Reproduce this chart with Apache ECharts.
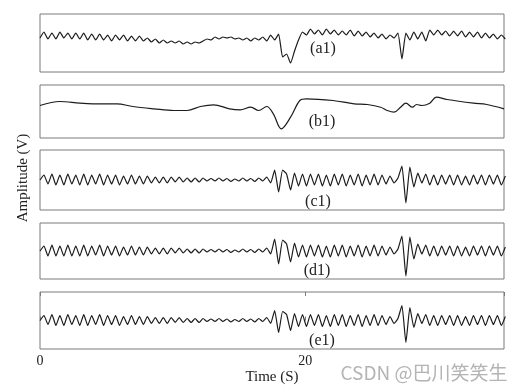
<!DOCTYPE html>
<html><head><meta charset="utf-8">
<script src="https://cdn.jsdelivr.net/npm/echarts@6/dist/echarts.min.js"></script>
<style>html,body{margin:0;padding:0;background:#fff}#c{width:526px;height:392px}</style>
</head><body><div id="c"></div>
<script>
// sampling interval of the oscillating records (s)
const timeStep = 0.3;
// (a1) record
const a1 = [5, 11, 4, 10, 4, 11, 5, 10, 4, 10, 4, 10, 3, 9, 3, 9, 3, 8, 2, 8, 3, 8, 2, 7, 2, 7, 2,
  5, 1, 4, 0, 3, 0, 2, 0, 2, -1, 1, -1, 1, 0,
  2, 4, 3, 6, 4, 6, 5, 6, 4, 5, 3, 5, 2, 5, 3,
  6, 2, 8, 3, 9, -14, -11, -20, -8, 3, 11,
  8, 14, 9, 13, 8, 14, 9, 13, 8, 12, 8, 13, 7, 12, 7, 11, 6, 10, 5, 9,
  4, 8, 5, 10, -16, 10, 3, 11, 4, 11, 2, 13,
  8, 13, 8, 12, 7, 12, 7, 12, 6, 11, 6, 11, 5, 10, 5, 9, 4, 8, 4];
// (b1) smooth record, sampled at its turning points
const b1Time = [0, 1.5, 3.0, 4.0, 5.8, 7.0, 8.6, 10.1, 11.1, 12.1, 13.1, 14.3, 15.1, 15.9, 16.5, 17.1, 17.6, 18.2, 18.9, 19.6,
  20.1, 22.1, 23.7, 24.7, 25.7, 26.2, 26.7, 27.2, 27.6, 28.1, 28.4, 28.8, 29.4, 29.9, 30.7, 32.7, 33.7, 35];
const b1 = [6, 10, 8.3, 7.7, 7.7, 5, 2.7, 1, 1, 5, 6.7, 2.7, 1.7, 4.3, 1, 5, -2.3, -17.3, -5.7, 11,
  12.7, 11, 7.7, 7, 4.3, 1, -0.7, 4.3, 8.3, 4.3, 7, 6, 8.3, 14.3, 12, 8.3, 7, 2.7];
// (c1) record
const c1 = [0, 5, -4, 6, -5, 5, -5, 6, -4, 5, -5, 6, -5, 5, -4, 6, -5, 5, -4, 5, -5, 4, -4, 5, -4, 4, -4,
  4, -3, 3, -3, 3, -3, 3, -2, 3, -2, 2, -2, 2, -2,
  2, -1, 1.5, -1, 2, -1, 1.5, -1.5, 1, -1, 2, -1, 1.5, -1.5, 2,
  -1, 3, -3, 10, -12, 10, 6, -10, 7, -6, 6,
  -6, 6, -5, 6, -6, 5, -6, 6, -5, 6, -6, 5, -5, 6, -6, 5, -5, 6, -5, 5,
  -4, 4, -3, 2, 14, -23, 13, -7, 7, -3, 6, -5,
  5, -5, 5, -4, 5, -5, 5, -5, 4, -5, 5, -4, 5, -5, 5, -4, 5, -5, 4];
// (d1) record
const d1 = [0, 5, -5, 6, -5, 5, -5, 6, -5, 5, -5, 6, -5, 5, -4, 6, -5, 5, -4, 5, -5, 4, -4, 5, -4, 4, -4,
  4, -3, 3, -3, 3, -3, 3, -2, 3, -2, 2, -2, 2, -2,
  2, -1, 1.5, -1, 2, -1, 1.5, -1.5, 1, -1, 2, -1, 1.5, -1.5, 2,
  -1, 3, -3, 12, -13, 11, 7, -11, 8, -6, 6,
  -6, 6, -5, 6, -6, 5, -6, 6, -5, 6, -6, 5, -5, 6, -6, 5, -5, 6, -5, 5,
  -4, 4, -3, 2, 15, -25, 14, -8, 7, -3, 6, -5,
  5, -5, 5, -4, 5, -5, 5, -5, 4, -5, 5, -4, 5, -5, 5, -4, 5, -5, 4];
// (e1) record
const e1 = [0, 5, -4, 6, -5, 5, -5, 6, -4, 5, -5, 6, -5, 5, -4, 6, -5, 5, -4, 5, -5, 4, -4, 5, -4, 4, -4,
  4, -3, 3, -3, 3, -3, 3, -2, 3, -2, 2, -2, 2, -2,
  2, -1, 1.5, -1, 2, -1, 1.5, -1.5, 1, -1, 2, -1, 1.5, -1.5, 2,
  -1, 3, -3, 10, -12, 9, 6, -10, 7, -6, 6,
  -6, 6, -5, 6, -6, 5, -6, 6, -5, 6, -6, 5, -5, 6, -6, 5, -5, 6, -5, 5,
  -4, 4, -3, 2, 15, -22, 13, -7, 7, -3, 6, -5,
  5, -5, 5, -4, 5, -5, 5, -5, 4, -5, 5, -4, 5, -5, 5, -4, 5, -5, 4];
const xTicks = [0, 20];
const panelLabels = ['(a1)', '(b1)', '(c1)', '(d1)', '(e1)'];
const xLabel = 'Time (S)';
const yLabel = 'Amplitude (V)';
const watermark = 'CSDN @巴川笑笑生';

const SERIF = "'Liberation Serif','Times New Roman',serif";
const BORDER = '#7a7a7a';
const LINE = '#1c1c1c';
const panels = [
  {top: 14, h: 58, range: 29, lx: 323, ly: 49},
  {top: 85, h: 53, range: 26.5, lx: 322, ly: 122},
  {top: 150, h: 60, range: 30, lx: 318, ly: 202},
  {top: 223, h: 56, range: 28, lx: 317, ly: 271},
  {top: 292, h: 57, range: 28.5, lx: 322, ly: 341}
];
const toPairs = arr => arr.map((v, i) => [i * timeStep, v]);
const seriesData = [
  toPairs(a1),
  b1Time.map((t, i) => [t, b1[i]]),
  toPairs(c1), toPairs(d1), toPairs(e1)
];

const grid = panels.map(p => ({left: 40, width: 464, top: p.top, height: p.h, show: true,
  borderColor: BORDER, borderWidth: 1, backgroundColor: 'transparent'}));
const xAxis = panels.map((p, i) => ({
  gridIndex: i, type: 'value', min: 0, max: 35, interval: 20,
  axisLine: {show: false}, splitLine: {show: false},
  axisTick: {show: i === 4, inside: true, length: 4, lineStyle: {color: BORDER}},
  axisLabel: {show: i === 4, margin: 5, fontFamily: SERIF, fontSize: 14, color: '#222',
    showMaxLabel: false, formatter: v => xTicks.includes(v) ? String(v) : ''}
}));
xAxis.push({gridIndex: 4, type: 'value', min: 0, max: 35, interval: 20, position: 'top',
  axisLine: {show: false}, splitLine: {show: false}, axisLabel: {show: false},
  axisTick: {show: true, inside: true, length: 4, lineStyle: {color: BORDER}}});
const yAxis = panels.map((p, i) => ({gridIndex: i, type: 'value', min: -p.range, max: p.range, show: false}));
const series = seriesData.map((d, i) => ({
  type: 'line', xAxisIndex: i, yAxisIndex: i, data: d, showSymbol: false,
  smooth: i === 1 ? 0.35 : 0.15, lineStyle: {color: LINE, width: 1.2}, silent: true
}));
const graphic = panels.map((p, i) => ({type: 'text', x: p.lx, y: p.ly,
  style: {text: panelLabels[i], font: '16px ' + SERIF, fill: '#222', align: 'center', verticalAlign: 'middle'}}));
graphic.push({type: 'text', x: 272, y: 377, style: {text: xLabel, font: '15px ' + SERIF, fill: '#222', align: 'center', verticalAlign: 'middle'}});
graphic.push({type: 'text', x: 23, y: 178, rotation: Math.PI / 2, style: {text: yLabel, font: '15px ' + SERIF, fill: '#222', align: 'center', verticalAlign: 'middle'}});
graphic.push({type: 'text', x: 424, y: 373, style: {text: watermark, font: "19px 'Noto Sans CJK SC','Noto Sans',sans-serif", fill: '#b4b4b4', align: 'center', verticalAlign: 'middle'}});

const chart = echarts.init(document.getElementById('c'), null, {renderer: 'canvas'});
chart.setOption({animation: false, grid, xAxis, yAxis, series, graphic});
</script></body></html>
